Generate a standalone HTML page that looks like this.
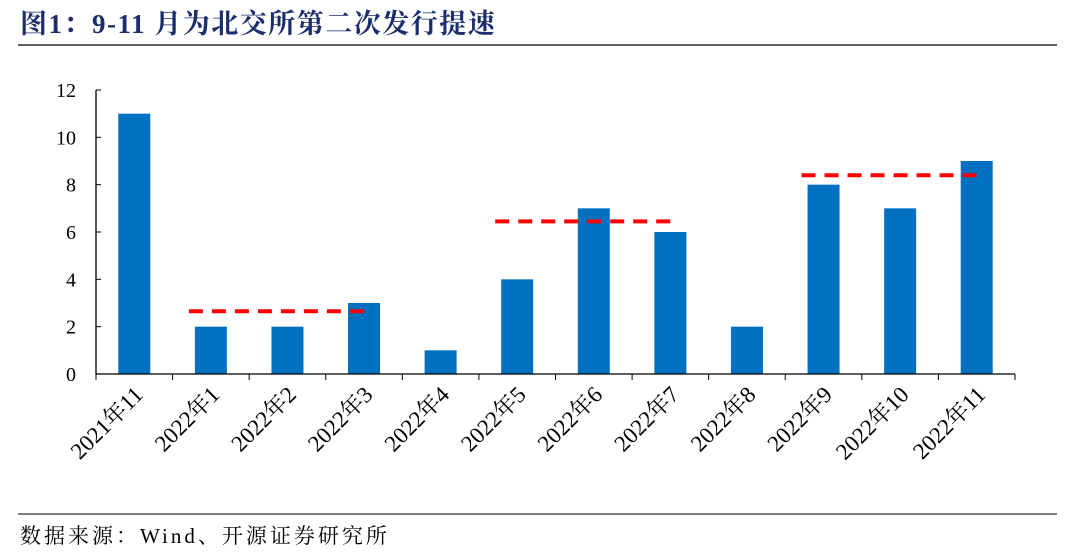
<!DOCTYPE html>
<html><head><meta charset="utf-8"><style>
body{margin:0;background:#fff;}
svg{display:block;}
</style></head><body>
<svg width="1080" height="559" xmlns="http://www.w3.org/2000/svg">
<text x="20" y="33" font-family="Liberation Serif, Noto Serif CJK SC, serif" font-size="27" font-weight="bold" fill="#1c2d6b" letter-spacing="1.5">图1：9-11 月为北交所第二次发行提速</text>
<line x1="18" y1="45" x2="1057" y2="45" stroke="#000" stroke-width="1.2"/>
<line x1="18" y1="514" x2="1057" y2="514" stroke="#000" stroke-width="1"/>
<text x="20" y="543" font-family="Liberation Serif, Noto Serif CJK SC, serif" font-size="21" fill="#000" letter-spacing="3">数据来源：Wind、开源证券研究所</text>
<g id="plot"></g>
<script>
const categories=["2021年11","2022年1","2022年2","2022年3","2022年4","2022年5","2022年6","2022年7","2022年8","2022年9","2022年10","2022年11"];
const values=[11,2,2,3,1,4,7,6,2,8,7,9];
const yTicks=[0,2,4,6,8,10,12];
const avgStart=[1,5,9];
const avgEnd=[3,7,11];
const avgValue=[2.65,6.45,8.4];
const NS="http://www.w3.org/2000/svg";
const g=document.getElementById('plot');
const x0=96,x1=1015,yb=374,yt=90,yMax=12;
const bw=(x1-x0)/categories.length;
const y=v=>yb-(v/yMax)*(yb-yt);
const xc=i=>x0+bw*(i+0.5);
function mk(t,a){const e=document.createElementNS(NS,t);for(const k in a)e.setAttribute(k,a[k]);g.appendChild(e);return e;}
values.forEach((v,i)=>{const r=mk('rect',{x:xc(i)-16,y:y(v),width:32,height:yb-y(v),fill:'#0070c0'});

});
let ax=mk('line',{x1:x0,y1:yt,x2:x0,y2:yb,stroke:'#000','stroke-width':1.3});


let bx=mk('line',{x1:x0,y1:yb,x2:x1,y2:yb,stroke:'#000','stroke-width':1.3});


yTicks.forEach(t=>{const l=mk('line',{x1:x0,y1:y(t),x2:x0+5,y2:y(t),stroke:'#000','stroke-width':1});


const tx=mk('text',{x:x0-20,y:y(t)+7,'text-anchor':'end','font-family':'Liberation Serif, serif','font-size':20});tx.textContent=t;

});
for(let i=0;i<=categories.length;i++){const l=mk('line',{x1:x0+bw*i,y1:yb,x2:x0+bw*i,y2:yb+6,stroke:'#000','stroke-width':1});

}
categories.forEach((c,i)=>{const cx=xc(i)+10,cy=yb+22;const t=mk('text',{x:cx,y:cy,'text-anchor':'end','font-family':'Liberation Serif, Noto Serif CJK SC, serif','font-size':23,transform:`rotate(-45 ${cx} ${cy})`});t.textContent=c;

});
avgStart.forEach((s,k)=>{const l=mk('line',{x1:xc(s)-22,y1:y(avgValue[k]),x2:xc(avgEnd[k])+3,y2:y(avgValue[k]),stroke:'#ff0000','stroke-width':4,'stroke-dasharray':'14,9'});

});
</script>
</svg>
</body></html>
